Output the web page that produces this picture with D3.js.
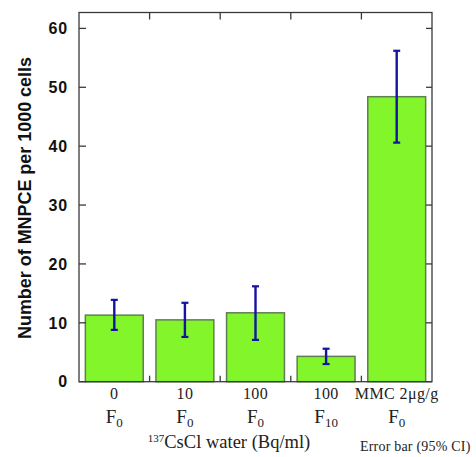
<!DOCTYPE html>
<html>
<head>
<meta charset="utf-8">
<script src="https://cdn.jsdelivr.net/npm/d3@7"></script>
<style>
  html, body { margin: 0; padding: 0; background: #fff; }
  svg { display: block; }
</style>
</head>
<body>
<svg id="chart" width="476" height="457"></svg>
<script>
// ---- data ----
const doseLabels = ["0", "10", "100", "100", "MMC 2μg/g"];
const fSubLabels = ["0", "0", "0", "10", "0"];
const means = [11.3, 10.5, 11.7, 4.3, 48.4];
const ciLow = [8.8, 7.6, 7.1, 3.0, 40.6];
const ciHigh = [13.9, 13.4, 16.2, 5.6, 56.2];
const yTicks = [0, 10, 20, 30, 40, 50, 60];
const yLabel = "Number of MNPCE per 1000 cells";
const xTitleSup = "137";
const xTitleRest = "CsCl water (Bq/ml)";
const noteText = "Error bar (95% CI)";

// ---- layout ----
const svg = d3.select("#chart");
const plotLeft = 79, plotRight = 432, plotBottom = 381.7;
const y = d3.scaleLinear().domain([0, 60]).range([plotBottom, 28.4]);
const plotTop = y(62.7);
const idx = d3.range(means.length);
const x = d3.scaleBand().domain(idx).range([plotLeft, plotRight]).paddingInner(0.18).paddingOuter(0.09);
const step = x.step();

const frameColor = "#3a3a3a";
const sansFont = "'Liberation Sans', Arial, sans-serif";
const serifFont = "'Liberation Serif', 'DejaVu Serif', serif";

// bars
svg.append("g").selectAll("rect").data(idx).join("rect")
  .attr("x", i => x(i))
  .attr("y", i => y(means[i]))
  .attr("width", x.bandwidth())
  .attr("height", i => y(0) - y(means[i]))
  .attr("fill", "#82f52b")
  .attr("stroke", "#5f7f52")
  .attr("stroke-width", 1.5);

// error bars
const eb = svg.append("g").attr("stroke", "#1414a0").attr("fill", "none");
idx.forEach(i => {
  const cx = x(i) + x.bandwidth() / 2;
  eb.append("line").attr("x1", cx).attr("x2", cx)
    .attr("y1", y(ciLow[i])).attr("y2", y(ciHigh[i])).attr("stroke-width", 2.4);
  [ciLow[i], ciHigh[i]].forEach(v => {
    eb.append("line").attr("x1", cx - 3.5).attr("x2", cx + 3.5)
      .attr("y1", y(v)).attr("y2", y(v)).attr("stroke-width", 2.2);
  });
});

// frame
svg.append("rect")
  .attr("x", plotLeft).attr("y", plotTop)
  .attr("width", plotRight - plotLeft).attr("height", plotBottom - plotTop)
  .attr("fill", "none").attr("stroke", frameColor).attr("stroke-width", 1.3);

// y ticks (left and right, inward)
const tk = svg.append("g").attr("stroke", frameColor).attr("stroke-width", 1.3);
yTicks.forEach(v => {
  tk.append("line").attr("x1", plotLeft).attr("x2", plotLeft + 7).attr("y1", y(v)).attr("y2", y(v));
  tk.append("line").attr("x1", plotRight).attr("x2", plotRight - 6).attr("y1", y(v)).attr("y2", y(v));
});
// category boundary ticks (top and bottom)
d3.range(1, means.length).forEach(k => {
  const xx = plotLeft + step * k;
  tk.append("line").attr("x1", xx).attr("x2", xx).attr("y1", plotTop).attr("y2", plotTop + 7);
  tk.append("line").attr("x1", xx).attr("x2", xx).attr("y1", plotBottom).attr("y2", plotBottom - 6);
});

// y tick labels
svg.append("g").selectAll("text").data(yTicks).join("text")
  .attr("x", 68).attr("y", v => y(v))
  .attr("dy", "0.36em")
  .attr("text-anchor", "end")
  .attr("font-family", sansFont).attr("font-weight", "bold")
  .attr("font-size", 16).attr("letter-spacing", 0.8)
  .attr("fill", "#111")
  .text(v => v);

// y axis label
svg.append("text")
  .attr("transform", `translate(31,${(57 + 339) / 2}) rotate(-90)`)
  .attr("text-anchor", "middle")
  .attr("font-family", sansFont).attr("font-weight", "bold")
  .attr("font-size", 17.5)
  .attr("textLength", 282).attr("lengthAdjust", "spacingAndGlyphs")
  .attr("fill", "#111")
  .text(yLabel);

// category labels
const cat = svg.append("g").attr("font-family", serifFont).attr("fill", "#222");
idx.forEach(i => {
  const cx = x(i) + x.bandwidth() / 2;
  cat.append("text").attr("x", cx).attr("y", 399)
    .attr("text-anchor", "middle").attr("font-size", 16).attr("letter-spacing", 0.4)
    .text(doseLabels[i]);
  const t = cat.append("text").attr("x", cx).attr("y", 423)
    .attr("text-anchor", "middle").attr("font-size", 19);
  t.append("tspan").text("F");
  t.append("tspan").attr("font-size", 13).attr("dy", 4).text(fSubLabels[i]);
});

// x axis title
const xt = svg.append("text").attr("x", 229).attr("y", 448)
  .attr("text-anchor", "middle").attr("font-family", serifFont)
  .attr("font-size", 18.5).attr("fill", "#222");
xt.append("tspan").attr("font-size", 11).attr("dy", -6).text(xTitleSup);
xt.append("tspan").attr("dy", 6).text(xTitleRest);

// note
svg.append("text").attr("x", 360).attr("y", 451)
  .attr("font-family", serifFont).attr("font-size", 14).attr("letter-spacing", 0.2)
  .attr("fill", "#222")
  .text(noteText);
</script>
</body>
</html>
